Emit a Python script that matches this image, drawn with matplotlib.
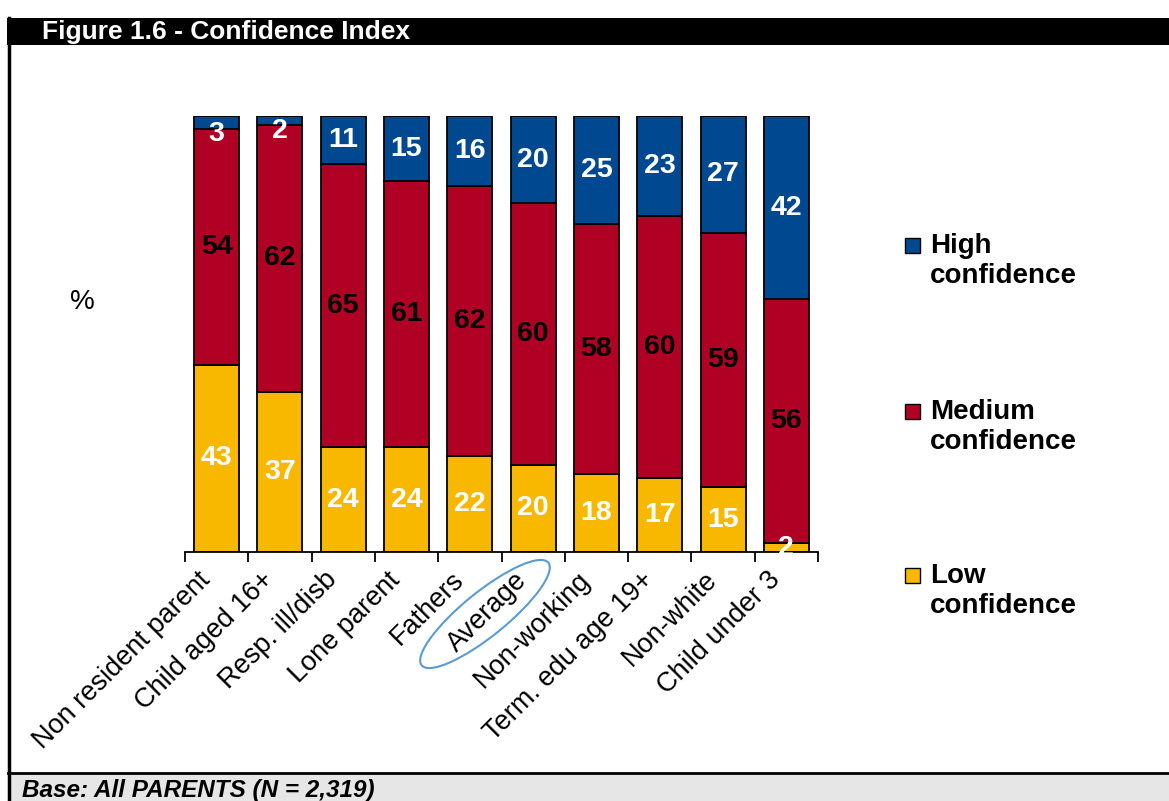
import matplotlib
matplotlib.use("Agg")
import matplotlib.pyplot as plt
import numpy as np
from matplotlib.patches import Rectangle, Ellipse
from matplotlib.transforms import IdentityTransform, offset_copy

plt.rcParams['font.family'] = ['Liberation Sans', 'DejaVu Sans']

categories = ["Non resident parent", "Child aged 16+", "Resp. ill/disb", "Lone parent",
              "Fathers", "Average", "Non-working", "Term. edu age 19+", "Non-white",
              "Child under 3"]
low = [43, 37, 24, 24, 22, 20, 18, 17, 15, 2]
medium = [54, 62, 65, 61, 62, 60, 58, 60, 59, 56]
high = [3, 2, 11, 15, 16, 20, 25, 23, 27, 42]
series_names = ["High\nconfidence", "Medium\nconfidence", "Low\nconfidence"]
colors = {"high": "#004990", "medium": "#B00024", "low": "#F9B800"}

W, H = 1169, 801
fig = plt.figure(figsize=(W / 100, H / 100), dpi=100)

def px(x0, y0, x1, y1):
    return [x0 / W, 1 - y1 / H, (x1 - x0) / W, (y1 - y0) / H]

# Footer background
fig.patches.append(Rectangle((8 / W, 0), 1 - 8 / W, (H - 773) / H, transform=fig.transFigure,
                             facecolor="#e6e6e6", edgecolor="none", zorder=0))
fig.add_artist(plt.Line2D([8 / W, 1], [1 - 773 / H] * 2, color="black", lw=2, transform=fig.transFigure))
# Title bar
fig.patches.append(Rectangle((7 / W, 1 - 45 / H), 1 - 7 / W, 27 / H, transform=fig.transFigure,
                             facecolor="black", edgecolor="none", zorder=1))
# Left border
fig.add_artist(plt.Line2D([9 / W, 9 / W], [0, 1 - 18 / H], color="black", lw=2.5, transform=fig.transFigure))

fig.text(42 / W, 1 - 31.5 / H, "Figure 1.6 - Confidence Index", color="white", fontsize=19,
         fontweight="bold", va="center", ha="left")
fig.text(22 / W, 1 - 790 / H, "Base: All PARENTS (N = 2,319)", color="black", fontsize=17.5,
         fontweight="bold", fontstyle="italic", va="center", ha="left")

ax = fig.add_axes(px(185, 116, 818, 552))
x = np.arange(len(categories))
lo = np.array(low, float); me = np.array(medium, float); hi = np.array(high, float)
tot = lo + me + hi
lo_n, me_n, hi_n = lo / tot * 100, me / tot * 100, hi / tot * 100
w = 0.71
ax.bar(x, lo_n, w, color=colors["low"], edgecolor="black", linewidth=1.3)
ax.bar(x, me_n, w, bottom=lo_n, color=colors["medium"], edgecolor="black", linewidth=1.3)
ax.bar(x, hi_n, w, bottom=lo_n + me_n, color=colors["high"], edgecolor="black", linewidth=1.3)

fs = 20.5
for i in range(len(x)):
    ax.text(x[i], lo_n[i] / 2, str(low[i]), ha="center", va="center", color="white",
            fontsize=fs, fontweight="bold")
    ax.text(x[i], lo_n[i] + me_n[i] / 2, str(medium[i]), ha="center", va="center", color="black",
            fontsize=fs, fontweight="bold")
    tr = ax.transData
    if hi_n[i] < 5:
        tr = offset_copy(ax.transData, fig=fig, y=-11, units="dots")
    ax.text(x[i], lo_n[i] + me_n[i] + hi_n[i] / 2, str(high[i]), ha="center", va="center",
            color="white", fontsize=fs, fontweight="bold", transform=tr)

ax.set_xlim(-0.5, len(x) - 0.5)
ax.set_ylim(0, 100)
for s in ["left", "top", "right"]:
    ax.spines[s].set_visible(False)
ax.spines["bottom"].set_linewidth(1.3)
ax.set_yticks([])
ax.set_xticks(np.arange(len(x) + 1) - 0.5)
ax.set_xticklabels([])
ax.tick_params(axis="x", length=7, width=1.3, direction="out")
for i, c in enumerate(categories):
    ax.annotate(c, xy=(x[i], 0), xycoords="data", xytext=(-10, -24), textcoords="offset pixels",
                rotation=45, rotation_mode="anchor", ha="right", va="center", fontsize=19.5)

fig.text(82 / W, 1 - 302 / H, "%", fontsize=20, ha="center", va="center")

# Legend
leg_y = [245, 411, 575]
leg_colors = [colors["high"], colors["medium"], colors["low"]]
for name, yy, col in zip(series_names, leg_y, leg_colors):
    fig.patches.append(Rectangle((905 / W, 1 - (yy + 8) / H), 15 / W, 15 / H, transform=fig.transFigure,
                                 facecolor=col, edgecolor="black", linewidth=1))
    fig.text(930 / W, 1 - (yy - 12) / H, name, fontsize=20, fontweight="bold", ha="left", va="top",
             linespacing=1.18)

# Ellipse around "Average"
fig.add_artist(Ellipse((485, H - 614), 163, 44, angle=39, transform=IdentityTransform(),
                       facecolor="none", edgecolor="#5b9bd5", linewidth=1.5))

fig.savefig("out.png", dpi=100)
